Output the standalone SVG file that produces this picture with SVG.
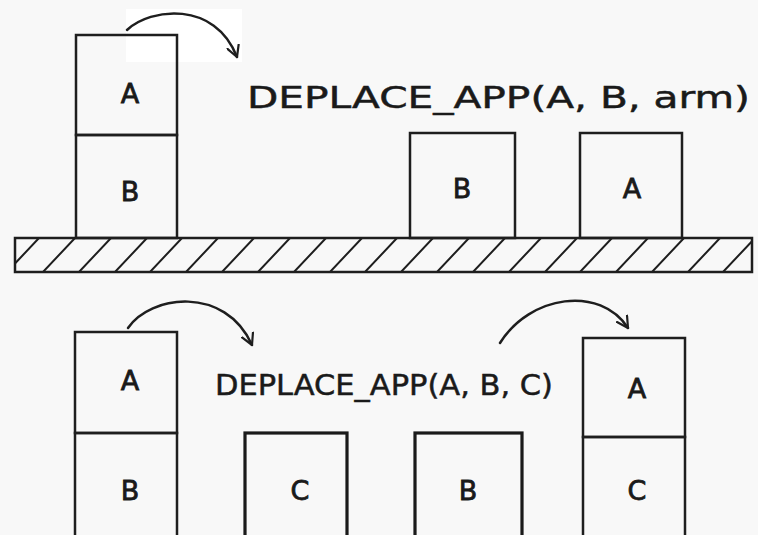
<svg xmlns="http://www.w3.org/2000/svg" width="758" height="535" viewBox="0 0 758 535">
  <defs>
    <style>
      .box { fill: none; stroke: #1e1e1e; stroke-width: 2.5; }
      .heavy { fill: none; stroke: #1a1a1a; stroke-width: 3.2; }
      .lbl { font-family: "DejaVu Sans", "Liberation Sans", sans-serif; font-size: 27px; fill: #1a1a1a; stroke: #1a1a1a; stroke-width: 0.8; text-anchor: middle; }
      .cmd { font-family: "DejaVu Sans", "Liberation Sans", sans-serif; fill: #1a1a1a; stroke: #1a1a1a; stroke-width: 0.5; }
      .arc { fill: none; stroke: #1e1e1e; stroke-width: 2.5; stroke-linecap: round; }
      .hatch { stroke: #1e1e1e; stroke-width: 2; }
    </style>
    <marker id="head" viewBox="0 0 14 14" refX="12" refY="7" markerWidth="14" markerHeight="14" markerUnits="userSpaceOnUse" orient="auto">
      <path d="M1,1 L12,7 L1,13" fill="none" stroke="#1e1e1e" stroke-width="2.2" stroke-linecap="round" stroke-linejoin="round"/>
    </marker>
    <clipPath id="floorClip">
      <rect x="15" y="238" width="737" height="34"/>
    </clipPath>
  </defs>

  <rect width="758" height="535" fill="#f8f8f8"/>
  <rect x="126" y="9" width="116" height="53" fill="#ffffff"/>

  <!-- floor with hatching -->
  <g id="floor">
    <g clip-path="url(#floorClip)">
      <path class="hatch" d="M7,272 l32,-34 M43,272 l32,-34 M79,272 l32,-34 M115,272 l32,-34 M150,272 l32,-34 M186,272 l32,-34 M222,272 l32,-34 M258,272 l32,-34 M294,272 l32,-34 M330,272 l32,-34 M365,272 l32,-34 M401,272 l32,-34 M437,272 l32,-34 M473,272 l32,-34 M509,272 l32,-34 M545,272 l32,-34 M580,272 l32,-34 M616,272 l32,-34 M652,272 l32,-34 M688,272 l32,-34 M723,272 l32,-34"/>
    </g>
    <rect x="15" y="238" width="737" height="34" class="box"/>
  </g>

  <!-- top scene: stack A on B before the move -->
  <g id="top-stack-A">
    <rect x="76" y="35" width="101" height="100" class="box"/>
    <text x="130" y="103" class="lbl">A</text>
  </g>
  <g id="top-stack-B">
    <rect x="76" y="135" width="101" height="103" class="box"/>
    <text x="130" y="201" class="lbl">B</text>
  </g>

  <text id="cmd-top" x="247" y="108" class="cmd" font-size="31" textLength="503" lengthAdjust="spacingAndGlyphs">DEPLACE_APP(A, B, arm)</text>

  <!-- top scene: after the move -->
  <g id="top-B">
    <rect x="410" y="133" width="105" height="105" class="box"/>
    <text x="462" y="198" class="lbl">B</text>
  </g>
  <g id="top-A">
    <rect x="580" y="133" width="102" height="105" class="box"/>
    <text x="632" y="198" class="lbl">A</text>
  </g>

  <!-- bottom scene: stack A on B -->
  <g id="bot-stack-A">
    <rect x="75" y="332" width="102" height="101" class="box"/>
    <text x="130" y="390" class="lbl">A</text>
  </g>
  <g id="bot-stack-B">
    <rect x="75" y="433" width="102" height="110" class="box"/>
    <text x="130" y="500" class="lbl">B</text>
  </g>

  <text id="cmd-bottom" x="215" y="395" class="cmd" font-size="29" textLength="338" lengthAdjust="spacingAndGlyphs">DEPLACE_APP(A, B, C)</text>

  <g id="bot-C">
    <rect x="245" y="433" width="102" height="110" class="heavy"/>
    <text x="300" y="500" class="lbl">C</text>
  </g>
  <g id="bot-B">
    <rect x="415" y="433" width="107" height="110" class="heavy"/>
    <text x="468" y="500" class="lbl">B</text>
  </g>

  <!-- bottom scene: A placed on C -->
  <g id="bot-stack2-A">
    <rect x="583" y="338" width="102" height="99" class="box"/>
    <text x="637" y="398" class="lbl">A</text>
  </g>
  <g id="bot-stack2-C">
    <rect x="583" y="437" width="102" height="106" class="box"/>
    <text x="637" y="500" class="lbl">C</text>
  </g>

  <!-- move arrows -->
  <g id="connectors">
    <path class="arc" d="M127,30 C150,8 215,0 237,57" marker-end="url(#head)"/>
    <path class="arc" d="M128,328 C150,295 225,285 252,345" marker-end="url(#head)"/>
    <path class="arc" d="M500,343 C530,295 600,285 628,328" marker-end="url(#head)"/>
  </g>
</svg>
